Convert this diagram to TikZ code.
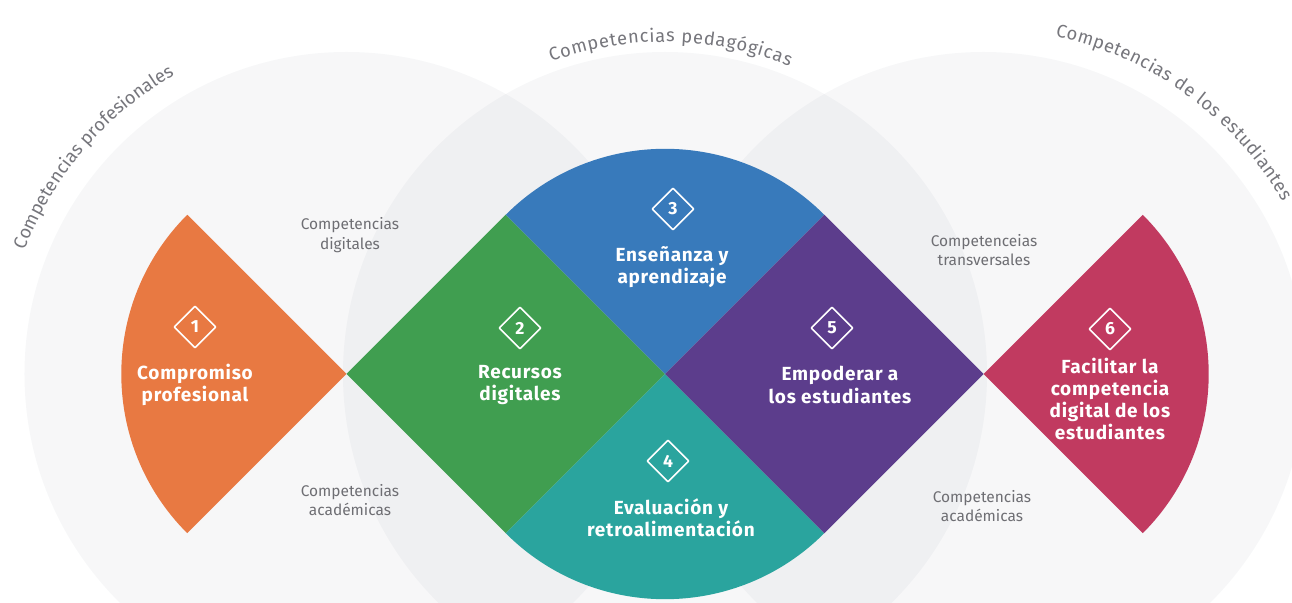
\documentclass[tikz,border=0pt]{standalone}
\usepackage{fontspec}
\setmainfont{Fira Sans}
\newfontfamily\tagfont{Fira Sans}[LetterSpace=4]
\usetikzlibrary{shapes.geometric,decorations.text}
\definecolor{dcorange}{RGB}{232,121,66}
\definecolor{dcgreen}{RGB}{64,158,80}
\definecolor{dcblue}{RGB}{56,122,187}
\definecolor{dcteal}{RGB}{42,164,158}
\definecolor{dcpurple}{RGB}{92,61,140}
\definecolor{dcred}{RGB}{193,58,96}
\definecolor{zonegray}{RGB}{70,85,110}
\definecolor{sidegray}{RGB}{110,110,115}
\definecolor{rimgray}{RGB}{118,118,124}

\begin{document}
\begin{tikzpicture}[x=0.025cm,y=0.025cm,line join=round,
  zone/.style={fill=zonegray,fill opacity=0.042},
  badge/.style={diamond,draw=white,line width=1.1pt,inner sep=0pt,minimum size=1.05cm,text=white,font=\tagfont\bfseries\fontsize{12.5}{12.5}\selectfont},
  area/.style={text=white,align=center,font=\tagfont\bfseries\fontsize{13.5}{15.8}\selectfont},
  side/.style={text=sidegray,align=center,font=\fontsize{11}{14}\selectfont},
  rim/.style={decorate,decoration={text along path,text align=fit to path,text={|\color{rimgray}\fontsize{13}{13}\selectfont|#1}}}]
\useasboundingbox (-665,-229) rectangle (627,374);
\fill[white] (-665,-229) rectangle (627,374);
\clip (-665,-229) rectangle (627,374);
\coordinate (cl) at (-318.5,0);
\coordinate (cm) at (0,0);
\coordinate (cr) at (318.5,0);
\fill[zone] (cl) circle (322);
\fill[zone] (cm) circle (322);
\fill[zone] (cr) circle (322);
\fill[dcorange] (cl) -- ++(135:225.2) arc[start angle=135,end angle=225,radius=225.2] -- cycle;
\fill[dcgreen] (cl) -- (-159.25,159.25) -- (cm) -- (-159.25,-159.25) -- cycle;
\fill[dcblue] (cm) -- (45:225.2) arc[start angle=45,end angle=135,radius=225.2] -- cycle;
\fill[dcteal] (cm) -- (-135:225.2) arc[start angle=-135,end angle=-45,radius=225.2] -- cycle;
\fill[dcpurple] (cm) -- (159.25,159.25) -- (cr) -- (159.25,-159.25) -- cycle;
\fill[dcred] (cr) -- ++(-45:225.2) arc[start angle=-45,end angle=45,radius=225.2] -- cycle;
\begin{scope}[shift={(-318.5,0)}]
\path[rim={Competencias profesionales}] (159:345) arc[start angle=159,end angle=120,radius=345];
\end{scope}
\path[rim={Competencias pedagógicas}] (110:332) arc[start angle=110,end angle=68,radius=332];
\begin{scope}[shift={(318.5,0)}]
\path[rim={Competencias de los estudiantes}] (78:345) arc[start angle=78,end angle=30,radius=345];
\end{scope}
\node[badge] (b1) at (-470,47) {1};
\node[area] (t1) at (-470,-11) {Compromiso\\profesional};
\node[badge] (b2) at (-145,46) {2};
\node[area] (t2) at (-145,-11) {Recursos\\digitales};
\node[badge] (b3) at (8,165) {3};
\node[area] (t3) at (7,107) {Enseñanza y\\aprendizaje};
\node[badge] (b4) at (3,-87) {4};
\node[area] (t4) at (6,-144) {Evaluación y\\retroalimentación};
\node[badge] (b5) at (167,46) {5};
\node[area] (t5) at (175,-11) {Empoderar a\\los estudiantes};
\node[badge] (b6) at (445,45) {6};
\node[area] (t6) at (445,-25) {Facilitar la\\competencia\\digital de los\\estudiantes};
\node[side] (dig) at (-315,139) {Competencias\\digitales};
\node[side] (acl) at (-315,-126) {Competencias\\académicas};
\node[side] (tra) at (319,124) {Competenceias\\transversales};
\node[side] (acr) at (317,-132) {Competencias\\académicas};
\end{tikzpicture}
\end{document}
